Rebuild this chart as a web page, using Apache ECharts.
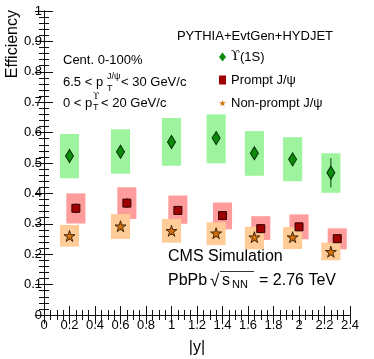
<!DOCTYPE html>
<html>
<head>
<meta charset="utf-8">
<script src="https://cdn.jsdelivr.net/npm/echarts@6/dist/echarts.min.js"></script>
<style>
  html, body { margin: 0; padding: 0; background: #fff; }
  #chart { width: 374px; height: 359px; }
</style>
</head>
<body>
<div id="chart"></div>
<script>
// Upsilon(1S)
const upsX = [0.2, 0.6, 1.0, 1.35, 1.65, 1.95, 2.25]
const upsY = [0.523, 0.537, 0.569, 0.582, 0.532, 0.512, 0.468]
const upsErr = [0.012, 0.012, 0.013, 0.014, 0.015, 0.022, 0.048]
const upsLo = [0.45, 0.465, 0.491, 0.499, 0.458, 0.44, 0.402]
const upsHi = [0.595, 0.611, 0.648, 0.66, 0.605, 0.585, 0.532]
// prompt J/psi
const prX = [0.25, 0.65, 1.05, 1.4, 1.7, 2.0, 2.3]
const prY = [0.351, 0.368, 0.344, 0.327, 0.284, 0.29, 0.251]
const prErr = [0.016, 0.016, 0.015, 0.015, 0.014, 0.014, 0.014]
const prLo = [0.301, 0.316, 0.3, 0.282, 0.247, 0.249, 0.216]
const prHi = [0.4, 0.42, 0.393, 0.37, 0.325, 0.331, 0.285]
// non-prompt J/psi
const npX = [0.2, 0.6, 1.0, 1.35, 1.65, 1.95, 2.25]
const npY = [0.26, 0.292, 0.277, 0.269, 0.256, 0.256, 0.208]
const npErr = [0.012, 0.013, 0.013, 0.013, 0.013, 0.013, 0.012]
const npLo = [0.225, 0.25, 0.238, 0.23, 0.216, 0.217, 0.18]
const npHi = [0.296, 0.332, 0.316, 0.305, 0.29, 0.289, 0.238]

const names = ['ϒ(1S)', 'Prompt J/ψ', 'Non-prompt J/ψ']

const font = "'Liberation Sans', 'DejaVu Sans', sans-serif"
const upsFont = "'DejaVu Serif', serif"
const boxHalf = 0.075
const starPath = 'path://M50,0 L61,35 L98,35 L68,57 L79,91 L50,70 L21,91 L32,57 L2,35 L39,35 Z'

const chart = echarts.init(document.getElementById('chart'))

const boxSeries = (xs, lo, hi, color) => ({
  type: 'custom',
  silent: true,
  data: xs.map((x, i) => [x, lo[i], hi[i]]),
  renderItem: (params, api) => {
    const x = api.value(0)
    const p1 = api.coord([x - boxHalf, api.value(2)])
    const p2 = api.coord([x + boxHalf, api.value(1)])
    return {
      type: 'rect',
      shape: { x: p1[0], y: p1[1], width: p2[0] - p1[0], height: p2[1] - p1[1] },
      style: { fill: color }
    }
  }
})

const errSeries = (xs, ys, err, color) => ({
  type: 'custom',
  silent: true,
  data: xs.map((x, i) => [x, ys[i] - err[i], ys[i] + err[i]]),
  renderItem: (params, api) => {
    const a = api.coord([api.value(0), api.value(1)])
    const b = api.coord([api.value(0), api.value(2)])
    return {
      type: 'line',
      shape: { x1: a[0], y1: a[1], x2: b[0], y2: b[1] },
      style: { stroke: color, lineWidth: 1 }
    }
  }
})

const axisCommon = {
  axisLine: { lineStyle: { color: '#111', width: 1 } },
  axisTick: { inside: true, length: 9, lineStyle: { color: '#111' } },
  splitLine: { show: false }
}

const txt = (text, x, y, size, extra) => ({
  type: 'text',
  x: x,
  y: y,
  style: Object.assign({ text: text, fontSize: size, fontFamily: font, fill: '#000', verticalAlign: 'middle', align: 'left' }, extra || {})
})

const option = {
  animation: false,
  grid: { left: 44, right: 24, top: 11, bottom: 44, containLabel: false, outerBoundsMode: 'none' },
  legend: {
    data: names,
    orient: 'vertical',
    left: 219,
    top: 50,
    padding: 0,
    itemWidth: 7,
    itemHeight: 9,
    itemGap: 9,
    itemStyle: { borderWidth: 0 },
    formatter: (name) => name.charAt(0) === 'ϒ' ? '{u|ϒ}(1S)' : name,
    textStyle: {
      fontSize: 13, fontFamily: font, color: '#000', lineHeight: 14,
      rich: { u: { fontSize: 13, fontFamily: upsFont, color: '#000', lineHeight: 14 } }
    }
  },
  xAxis: [
    Object.assign({
      type: 'value',
      min: 0,
      max: 2.4,
      interval: 0.2,
      position: 'bottom',
      minorTick: { show: true, splitNumber: 4, length: 5, lineStyle: { color: '#111' } },
      axisLabel: { fontSize: 13, fontFamily: font, color: '#000', margin: 4 },
      name: '|y|',
      nameLocation: 'middle',
      nameGap: 25,
      nameTextStyle: { fontSize: 16, fontFamily: font, color: '#000' }
    }, axisCommon),
    Object.assign({
      type: 'value',
      min: 0,
      max: 2.4,
      interval: 0.2,
      position: 'top',
      minorTick: { show: true, splitNumber: 4, length: 5, lineStyle: { color: '#111' } },
      axisLabel: { show: false }
    }, axisCommon)
  ],
  yAxis: [
    Object.assign({
      type: 'value',
      min: 0,
      max: 1,
      interval: 0.1,
      position: 'left',
      minorTick: { show: true, splitNumber: 5, length: 5, lineStyle: { color: '#111' } },
      axisLabel: { fontSize: 13, fontFamily: font, color: '#000', margin: 2 }
    }, axisCommon),
    Object.assign({
      type: 'value',
      min: 0,
      max: 1,
      interval: 0.1,
      position: 'right',
      minorTick: { show: true, splitNumber: 5, length: 5, lineStyle: { color: '#111' } },
      axisLabel: { show: false }
    }, axisCommon)
  ],
  series: [
    boxSeries(upsX, upsLo, upsHi, '#9ef39e'),
    boxSeries(prX, prLo, prHi, '#ff9c9c'),
    boxSeries(npX, npLo, npHi, '#ffcb96'),
    errSeries(upsX, upsY, upsErr, '#0a3a0a'),
    errSeries(prX, prY, prErr, '#300'),
    errSeries(npX, npY, npErr, '#331a00'),
    {
      name: names[0],
      type: 'scatter',
      symbol: 'diamond',
      symbolSize: [8, 13],
      data: upsX.map((x, i) => [x, upsY[i]]),
      itemStyle: { color: '#0c8a0c', borderColor: '#043004', borderWidth: 1, opacity: 1 }
    },
    {
      name: names[1],
      type: 'scatter',
      symbol: 'rect',
      symbolSize: 8,
      data: prX.map((x, i) => [x, prY[i]]),
      itemStyle: { color: '#a00000', borderColor: '#300', borderWidth: 1, opacity: 1 }
    },
    {
      name: names[2],
      type: 'scatter',
      symbol: starPath,
      symbolSize: 11,
      data: npX.map((x, i) => [x, npY[i]]),
      itemStyle: { color: '#d2700c', borderColor: '#201000', borderWidth: 0.8, opacity: 1 }
    }
  ],
  graphic: [
    txt('Efficiency', 13, 10, 16, { align: 'right' }),
    txt('PYTHIA+EvtGen+HYDJET', 333, 36, 13, { align: 'right' }),
    txt('Cent. 0-100%', 63, 60, 13),
    txt('6.5 < p', 63, 82, 13),
    txt('J/ψ', 107, 77, 9),
    txt('T', 107, 89, 9),
    txt('< 30 GeV/c', 121, 82, 13),
    txt('0 < p', 63, 103, 13),
    txt('ϒ', 93, 97, 9, { fontFamily: upsFont }),
    txt('T', 93, 108, 9),
    txt('< 20 GeV/c', 101, 103, 13),
    txt('CMS Simulation', 168, 257, 16),
    txt('PbPb', 168, 281, 16),
    txt('√', 210, 281, 17),
    txt('s', 222, 281, 16),
    txt('NN', 232, 285, 11),
    { type: 'line', shape: { x1: 220, y1: 271.5, x2: 254, y2: 271.5 }, style: { stroke: '#000', lineWidth: 0.8 } },
    txt('= 2.76 TeV', 259, 281, 16)
  ]
}
option.graphic[0].rotation = Math.PI / 2

chart.setOption(option)
</script>
</body>
</html>
